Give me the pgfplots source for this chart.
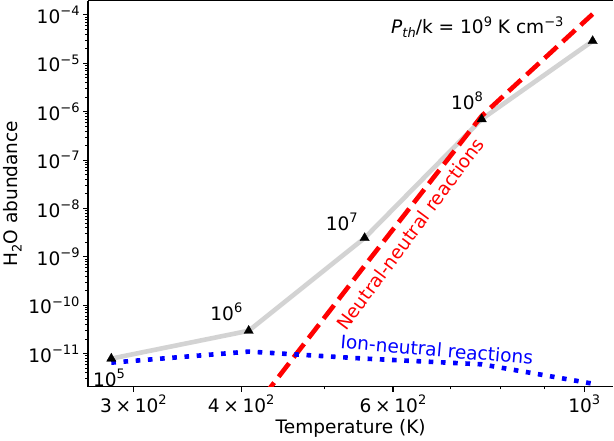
\documentclass[border=0pt]{standalone}
\usepackage{fontspec}
\setmainfont{DejaVu Sans}
\usepackage{pgfplots}
\pgfplotsset{compat=1.18}
\newcommand\ff{\fontsize{18.5bp}{22bp}\selectfont}
\newcommand\sups[1]{\raisebox{0.42em}{\fontsize{13bp}{13bp}\selectfont #1}}
\newcommand\subs[1]{\raisebox{-0.22em}{\fontsize{13bp}{13bp}\selectfont #1}}
\newcommand\tm{\hspace{0.2em}×\hspace{0.2em}}
\definecolor{greyline}{RGB}{211,211,211}
\begin{document}
\begin{tikzpicture}
\begin{axis}[
  scale only axis, width=524bp, height=385bp,
  xmode=log, ymode=log,
  xmin=265.7, xmax=1081, ymin=2.07e-12, ymax=1.98e-4,
  axis x line*=box, axis y line*=left,
  xtick pos=bottom, ytick pos=left,
  tick align=outside,
  major tick length=4.9bp, minor tick length=2.8bp,
  every tick/.style={black, line width=1.1bp},
  every minor tick/.style={black, line width=0.8bp},
  axis line style={black, line width=1.1bp},
  xtick={300,400,600,1000},
  xticklabels={3\tm10\sups{2},4\tm10\sups{2},6\tm10\sups{2},10\sups{3}},
  minor xtick={500,700,800,900},
  ytick={1e-11,1e-10,1e-9,1e-8,1e-7,1e-6,1e-5,1e-4},
  yticklabels={10\sups{−11},10\sups{−10},10\sups{−9},10\sups{−8},10\sups{−7},10\sups{−6},10\sups{−5},10\sups{−4}},
  minor ytick={2e-12,3e-12,4e-12,5e-12,6e-12,7e-12,8e-12,9e-12,
    2e-11,3e-11,4e-11,5e-11,6e-11,7e-11,8e-11,9e-11,
    2e-10,3e-10,4e-10,5e-10,6e-10,7e-10,8e-10,9e-10,
    2e-9,3e-9,4e-9,5e-9,6e-9,7e-9,8e-9,9e-9,
    2e-8,3e-8,4e-8,5e-8,6e-8,7e-8,8e-8,9e-8,
    2e-7,3e-7,4e-7,5e-7,6e-7,7e-7,8e-7,9e-7,
    2e-6,3e-6,4e-6,5e-6,6e-6,7e-6,8e-6,9e-6,
    2e-5,3e-5,4e-5,5e-5,6e-5,7e-5,8e-5,9e-5},
  tick label style={font=\ff},
  label style={font=\ff},
  xlabel={Temperature (K)},
  ylabel={H\subs{2}O abundance},
]
\addplot[greyline, line width=4.6bp, mark=triangle*, mark size=5.4bp,
  mark options={fill=black, draw=black, line width=0.3bp}] coordinates {
  (282.8,7.87e-12) (408.1,2.96e-11) (556.2,2.45e-9) (760.4,7.0e-7) (1022.5,2.89e-5)};
\addplot[red, line width=4.6bp, dash pattern=on 17bp off 7.4bp] coordinates {
  (408.1,5.26e-13) (556.2,6.55e-10) (760.4,8.18e-7) (1022.5,1.04e-4)};
\addplot[blue, line width=4.6bp, dash pattern=on 4.6bp off 7.6bp] coordinates {
  (282.8,6.5e-12) (408.1,1.10e-11) (556.2,7.87e-12) (760.4,6.0e-12) (1022.5,2.39e-12)};
\node[font=\ff, inner sep=0pt] at (axis cs:281.1,3.18e-12) {10\sups{5}};
\node[font=\ff, inner sep=0pt] at (axis cs:384.6,7.43e-11) {10\sups{6}};
\node[font=\ff, inner sep=0pt] at (axis cs:523.2,5.2e-9) {10\sups{7}};
\node[font=\ff, inner sep=0pt] at (axis cs:731.1,1.67e-6) {10\sups{8}};
\node[font=\ff, inner sep=0pt] at (axis cs:751.6,5.59e-5) {\textit{P}\subs{\textit{th}}/k = 10\sups{9} K cm\sups{−3}};
\node[font=\ff, inner sep=0pt, text=red, rotate=53.5] at (axis cs:628.4,3.0e-9) {Neutral-neutral reactions};
\node[font=\ff, inner sep=0pt, text=blue, rotate=-4.9] at (axis cs:674.6,1.21e-11) {Ion-neutral reactions};
\end{axis}
\end{tikzpicture}
\end{document}
